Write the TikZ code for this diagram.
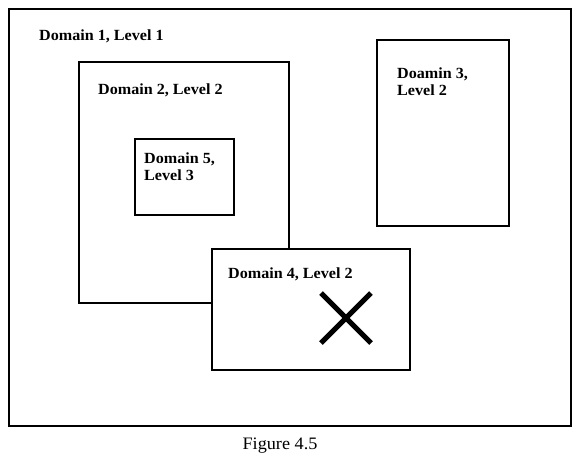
\documentclass[tikz,border=0pt]{standalone}
\usepackage{fontspec}
\setmainfont{Liberation Serif}[FakeStretch=1.04]
\usetikzlibrary{positioning}

\begin{document}
\begin{tikzpicture}[
x = 1pt, y = -1pt,
domain box/.style = {
	draw,
	line width = 2pt,
	inner sep = 0pt,
	outer sep = 0pt,
	anchor = north west
},
domain title/.style = {
	font = \bfseries\fontsize{15.5}{17}\selectfont,
	inner sep = 0pt,
	align = left
},
caption/.style = {
	font = \fontsize{17.5}{20}\selectfont,
	inner sep = 0pt
},
fail cross/.style = {
	line width = 5pt
}
]
\useasboundingbox (0,0) rectangle (582,458);

\node [domain box, minimum width = 562pt, minimum height = 417pt] (dom1) at (9,9) {};
\node [domain title, below right = 20.5pt and 30pt of dom1.north west] (t1) {Domain 1, Level 1};

\node [domain box, minimum width = 210pt, minimum height = 241pt] (dom2) at (79,62) {};
\node [domain title, below right = 21.5pt and 19pt of dom2.north west] (t2) {Domain 2, Level 2};

\node [domain box, minimum width = 99pt, minimum height = 76pt] (dom5) at (135,139) {};
\node [domain title, below right = 13.5pt and 9pt of dom5.north west] (t5) {Domain 5,\\Level 3};

\node [domain box, minimum width = 132pt, minimum height = 186pt] (dom3) at (377,40) {};
\node [domain title, below right = 27.5pt and 20pt of dom3.north west] (t3) {Doamin 3,\\Level 2};

\node [domain box, fill = white, minimum width = 198pt, minimum height = 121pt] (dom4) at (212,249) {};
\node [domain title, below right = 18.5pt and 16pt of dom4.north west] (t4) {Domain 4, Level 2};

\coordinate (fail) at (346,318);
\draw[fail cross] (fail) +(-25,-25) -- +(25,25);
\draw[fail cross] (fail) +(-25,25) -- +(25,-25);

\node [caption, below = 23pt of dom1.south, xshift = -10pt, anchor = base] (fig) {Figure 4.5};

\end{tikzpicture}
\end{document}
